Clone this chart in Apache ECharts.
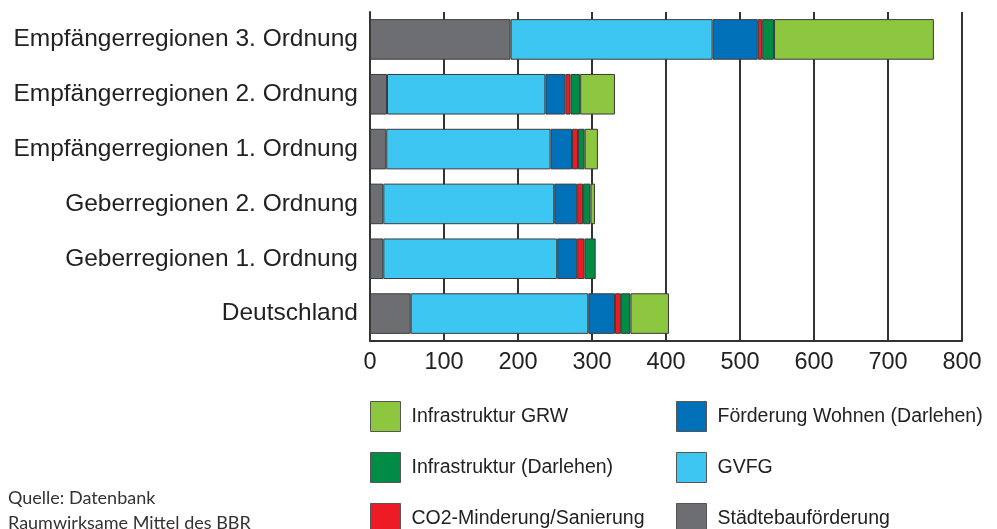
<!DOCTYPE html>
<html>
<head>
<meta charset="utf-8">
<script src="https://cdn.jsdelivr.net/npm/echarts@6/dist/echarts.min.js"></script>
<style>
  html, body { margin: 0; padding: 0; background: #fff; }
  #chart { width: 997px; height: 529px; }
</style>
</head>
<body>
<div id="chart"></div>
<script>
// Regionen (von oben nach unten)
const categories = [
  'Empfängerregionen 3. Ordnung',
  'Empfängerregionen 2. Ordnung',
  'Empfängerregionen 1. Ordnung',
  'Geberregionen 2. Ordnung',
  'Geberregionen 1. Ordnung',
  'Deutschland'
]
const xTicks = [0, 100, 200, 300, 400, 500, 600, 700, 800]

const staedtebau = [190, 23, 22, 18, 18, 55]
const gvfg = [273, 214, 222, 231, 235, 240]
const wohnen = [61, 27, 29, 31, 27, 36]
const co2 = [6, 7, 8, 8, 10, 8]
const infraDarlehen = [16, 13, 9, 10, 15, 13]
const infraGRW = [216, 47, 18, 6, 0, 52]

const chart = echarts.init(document.getElementById('chart'))

const gridColor = '#333'
const font = 'Arial'

function bar(name, data, color) {
  return {
    name: name,
    type: 'bar',
    stack: 'total',
    barCategoryGap: '26%',
    data: data.map(v => (v === 0 ? '-' : v)),
    animation: false,
    itemStyle: {
      color: color,
      borderColor: '#3a3a3a',
      borderWidth: 1
    }
  }
}

function legendCol(left, names) {
  return {
    orient: 'vertical',
    left: left,
    top: 401,
    height: 140,
    padding: 0,
    itemWidth: 30,
    itemHeight: 30,
    itemGap: 20,
    selectedMode: false,
    textStyle: { fontSize: 19.5, color: '#222', fontFamily: font, padding: [0, 0, 0, 6] },
    itemStyle: { borderColor: '#555', borderWidth: 1 },
    data: names.map(n => ({ name: n, icon: 'rect' }))
  }
}

chart.setOption({
  textStyle: { fontFamily: font },
  grid: {
    left: 370,
    right: 35,
    top: 12,
    bottom: 188,
    containLabel: false
  },
  xAxis: {
    type: 'value',
    min: xTicks[0],
    max: xTicks[xTicks.length - 1],
    interval: 100,
    axisLine: { show: true, lineStyle: { color: gridColor, width: 2 } },
    axisTick: { show: false },
    splitLine: { show: true, lineStyle: { color: gridColor, width: 2 } },
    axisLabel: {
      color: '#222',
      fontSize: 23.5,
      fontFamily: font,
      margin: 10
    }
  },
  yAxis: {
    type: 'category',
    inverse: true,
    data: categories,
    axisLine: { show: true, lineStyle: { color: gridColor, width: 2 } },
    axisTick: { show: false },
    axisLabel: {
      color: '#222',
      fontSize: 24.5,
      fontFamily: font,
      margin: 12
    }
  },
  legend: [
    legendCol(370, ['Infrastruktur GRW', 'Infrastruktur (Darlehen)', 'CO2-Minderung/Sanierung']),
    legendCol(676, ['Förderung Wohnen (Darlehen)', 'GVFG', 'Städtebauförderung'])
  ],
  graphic: [
    {
      type: 'text',
      left: 8,
      top: 486,
      style: {
        text: 'Quelle: Datenbank\nRaumwirksame Mittel des BBR',
        font: '18px Lato, "Open Sans", sans-serif',
        lineHeight: 25,
        fill: '#333'
      }
    }
  ],
  series: [
    bar('Städtebauförderung', staedtebau, '#6d6e71'),
    bar('GVFG', gvfg, '#3ec6f2'),
    bar('Förderung Wohnen (Darlehen)', wohnen, '#0071b9'),
    bar('CO2-Minderung/Sanierung', co2, '#ed1c24'),
    bar('Infrastruktur (Darlehen)', infraDarlehen, '#008c44'),
    bar('Infrastruktur GRW', infraGRW, '#8dc63f')
  ]
})
</script>
</body>
</html>
